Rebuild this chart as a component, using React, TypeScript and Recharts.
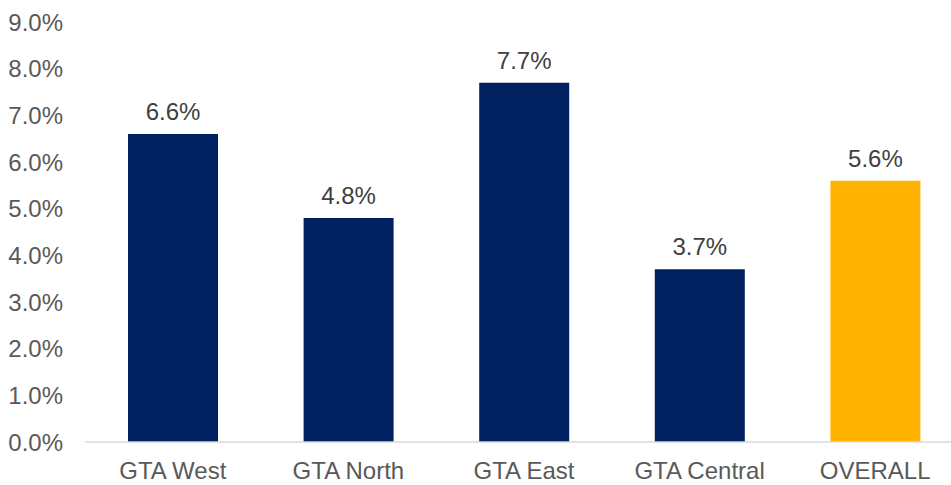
import React from "react";
import { BarChart, Bar, XAxis, YAxis, Cell, LabelList } from "recharts";

const categories = ["GTA West", "GTA North", "GTA East", "GTA Central", "OVERALL"];
const values = [6.6, 4.8, 7.7, 3.7, 5.6];
const barColors = ["#002060", "#002060", "#002060", "#002060", "#FFB300"];
const yTicks = [0, 1, 2, 3, 4, 5, 6, 7, 8, 9];

const data = categories.map((name, i) => ({ name, value: values[i] }));

const font = "'Liberation Sans', Arial, sans-serif";

export default function App() {
  return (
    <div style={{ position: "absolute", left: 0, top: 0, width: 951, height: 485, background: "#fff", overflow: "hidden" }}>
      <BarChart width={963} height={485} data={data} margin={{ top: 22, right: 0, bottom: 0, left: 0 }}>
        <XAxis
          dataKey="name"
          height={43}
          tickLine={false}
          axisLine={{ stroke: "#D9D9D9", strokeWidth: 1.5 }}
          tickSize={0}
          tickMargin={20}
          tick={{ fill: "#595959", fontSize: 24, fontFamily: font }}
          interval={0}
        />
        <YAxis
          width={85}
          domain={[0, 9]}
          ticks={yTicks}
          tickFormatter={(v: number) => v.toFixed(1) + "%"}
          axisLine={false}
          tickLine={false}
          tickSize={0}
          tickMargin={22}
          tick={{ fill: "#595959", fontSize: 24, fontFamily: font }}
        />
        <Bar dataKey="value" barSize={90} isAnimationActive={false}>
          {data.map((d, i) => (
            <Cell key={d.name} fill={barColors[i]} />
          ))}
          <LabelList
            dataKey="value"
            position="top"
            offset={14}
            formatter={(v: number) => v.toFixed(1) + "%"}
            style={{ fill: "#404040", fontSize: 24, fontFamily: font }}
          />
        </Bar>
      </BarChart>
    </div>
  );
}
